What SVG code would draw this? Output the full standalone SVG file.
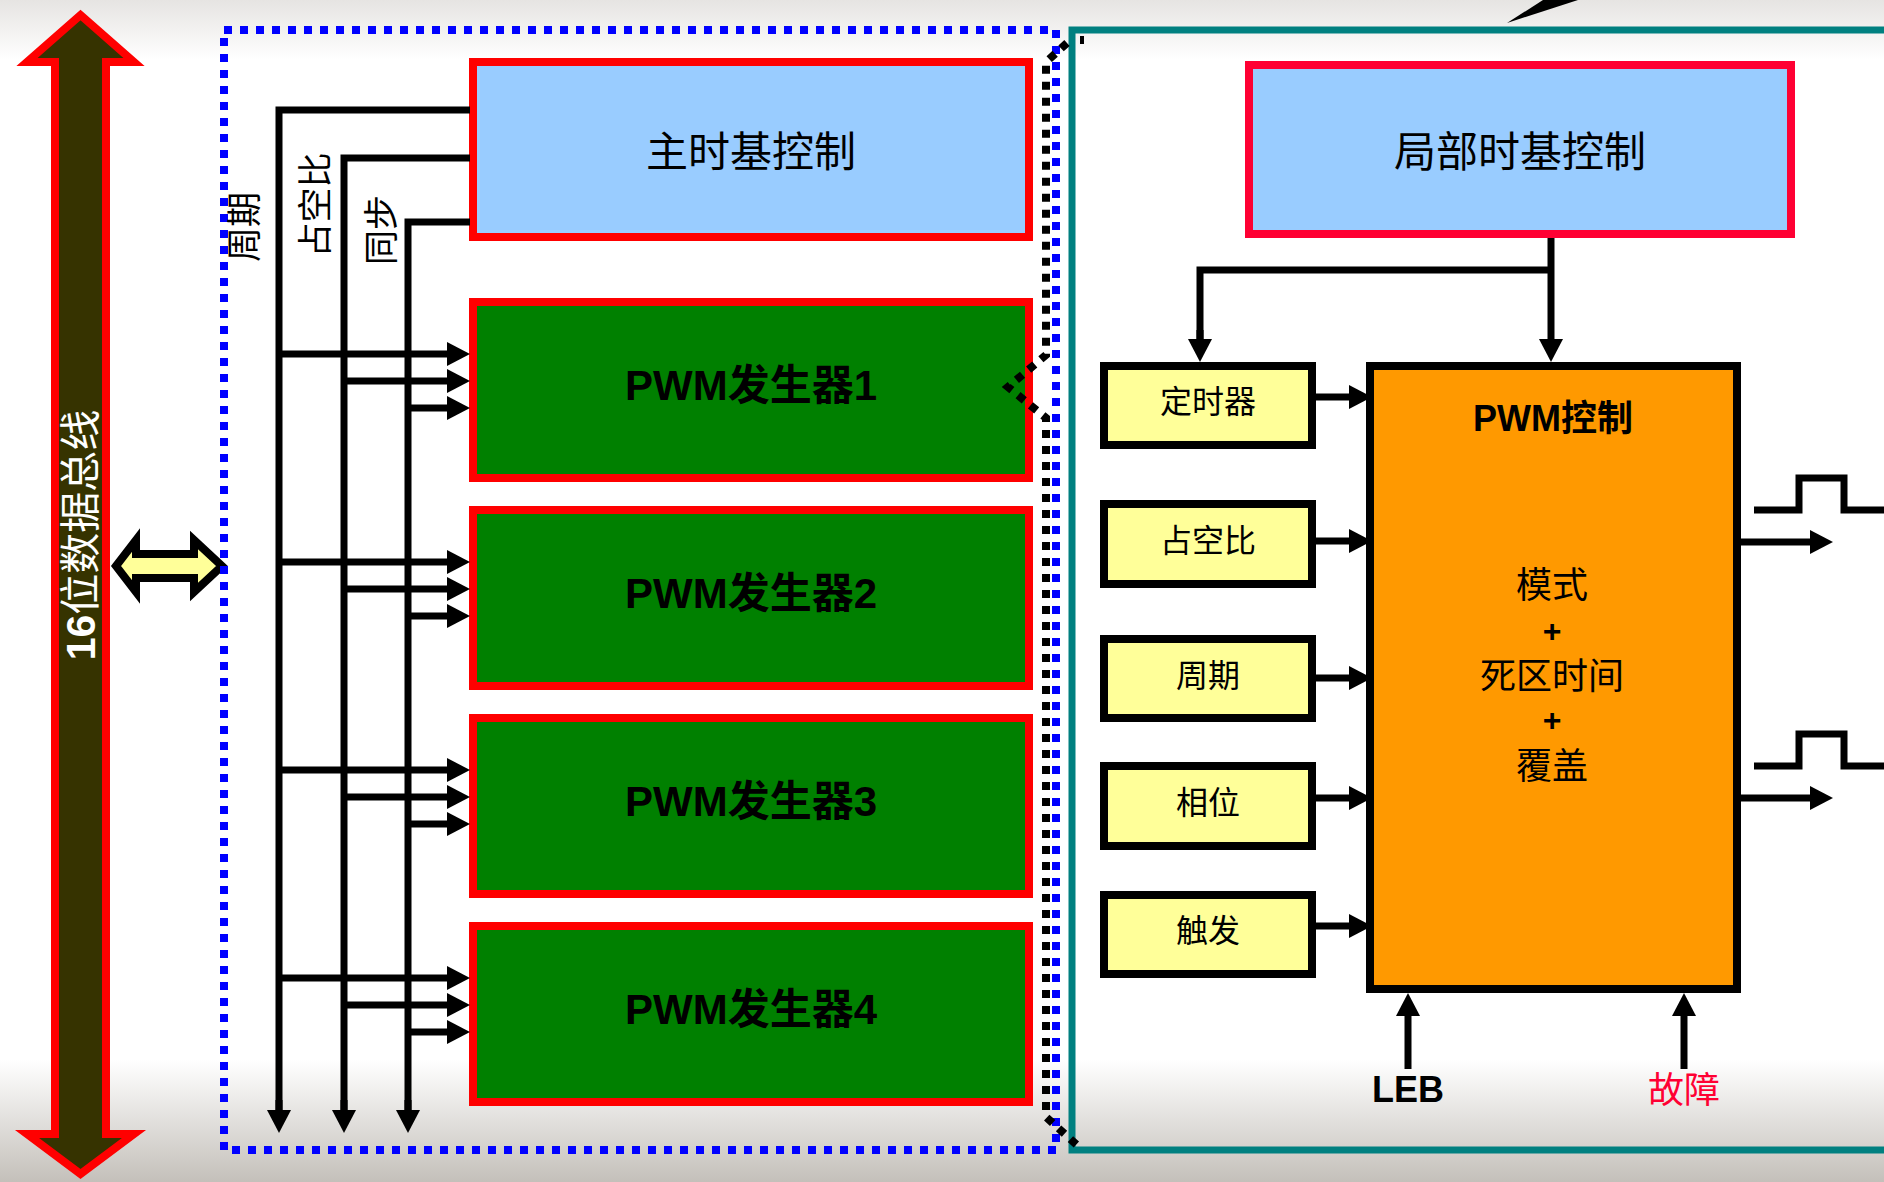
<svg xmlns="http://www.w3.org/2000/svg" width="1884" height="1182" viewBox="0 0 1884 1182">
<defs>
<linearGradient id="bgTop" x1="0" y1="0" x2="0" y2="1">
<stop offset="0" stop-color="#e6e4e2"/><stop offset="1" stop-color="#ffffff"/>
</linearGradient>
<linearGradient id="bgBot" x1="0" y1="0" x2="0" y2="1">
<stop offset="0" stop-color="#ffffff"/><stop offset="1" stop-color="#c4c0ba"/>
</linearGradient>
<marker id="ah" markerUnits="userSpaceOnUse" markerWidth="24" markerHeight="24" refX="13" refY="12" orient="auto">
<path d="M0,0 L23,12 L0,24 z" fill="#000"/>
</marker>
<style>
.cjk{font-family:"Noto Sans CJK SC","Liberation Sans",sans-serif}
.lat{font-family:"Liberation Sans","Noto Sans CJK SC",sans-serif}
.blue{fill:#99CCFF;stroke:#FF0000;stroke-width:8}
.gen{fill:#008000;stroke:#FF0000;stroke-width:8}
.yel{fill:#FFFF99;stroke:#000;stroke-width:8}
.ln{fill:none;stroke:#000;stroke-width:7;stroke-linejoin:miter}
.arr{fill:none;stroke:#000;stroke-width:7;marker-end:url(#ah)}
.gtxt{font-family:"Liberation Sans","Noto Sans CJK SC",sans-serif;font-weight:bold;font-size:42px;text-anchor:middle;fill:#000}
.ytxt{font-family:"Noto Sans CJK SC",sans-serif;font-size:32px;text-anchor:middle;fill:#000}
.otxt{font-family:"Noto Sans CJK SC",sans-serif;font-size:36px;text-anchor:middle;fill:#000}
.plus{font-family:"Liberation Sans",sans-serif;font-size:32px;font-weight:bold;text-anchor:middle;fill:#000}
.vtxt{font-family:"Noto Sans CJK SC",sans-serif;font-size:35px;text-anchor:middle;fill:#000}
</style>
</defs>
<rect x="0" y="0" width="1884" height="1182" fill="#ffffff"/>
<rect x="0" y="0" width="1884" height="60" fill="url(#bgTop)"/>
<rect x="0" y="1060" width="1884" height="122" fill="url(#bgBot)"/>

<g id="bus">
<polygon points="80.5,15 134,62 106,62 106,1134 134,1134 80.5,1174 27,1134 55,1134 55,62 27,62" fill="#363300" stroke="#FF0000" stroke-width="8" stroke-linejoin="miter"/>
<text transform="translate(80,535) rotate(-90)" x="0" y="15" text-anchor="middle" font-size="41" fill="#ffffff"><tspan class="lat" font-weight="bold">16</tspan><tspan class="cjk">位数据总线</tspan></text>
</g>

<g id="bus-link">
<polygon points="116,566 136,540 136,554 194,554 194,540 222,566 194,592 194,578 136,578 136,592" fill="#FFFF99" stroke="#000" stroke-width="8" stroke-linejoin="miter"/>
</g>

<g id="module-frame">
<rect x="224" y="30" width="832" height="1120" fill="none" stroke="#0000FF" stroke-width="8" stroke-dasharray="8 8"/>
</g>

<g id="master-timebase">
<rect class="blue" x="473" y="62" width="556" height="175"/>
<text class="cjk" x="751" y="167" font-size="42" text-anchor="middle" fill="#000">主时基控制</text>
</g>

<g id="pwm1">
<rect class="gen" x="473" y="302" width="556" height="176"/>
<text class="gtxt" x="751" y="400">PWM发生器1</text>
</g>
<g id="pwm2">
<rect class="gen" x="473" y="510" width="556" height="176"/>
<text class="gtxt" x="751" y="608">PWM发生器2</text>
</g>
<g id="pwm3">
<rect class="gen" x="473" y="718" width="556" height="176"/>
<text class="gtxt" x="751" y="816">PWM发生器3</text>
</g>
<g id="pwm4">
<rect class="gen" x="473" y="926" width="556" height="176"/>
<text class="gtxt" x="751" y="1024">PWM发生器4</text>
</g>

<g id="detail-frame">
<rect x="1072" y="30" width="900" height="1120" fill="none" stroke="#008080" stroke-width="7"/>
<path d="M1067,43 L1046,62 V355 L1008,387 L1046,418 V1117 L1078,1146" fill="none" stroke="#000" stroke-width="8" stroke-dasharray="8 8"/>
<rect x="1080" y="36" width="4" height="8" fill="#000"/>
<polygon points="1507,23 1543,0 1578,0" fill="#000"/>
</g>

<g id="labels-left">
<text class="vtxt" transform="translate(244,227) rotate(-90)" x="0" y="13">周期</text>
<text class="vtxt" transform="translate(315,205) rotate(-90)" x="0" y="13">占空比</text>
<text class="vtxt" transform="translate(381,230) rotate(-90)" x="0" y="13">同步</text>
</g>

<g id="local-timebase">
<rect x="1249" y="65" width="542" height="169" fill="#99CCFF" stroke="#FF0033" stroke-width="8"/>
<text class="cjk" x="1520" y="167" font-size="42" text-anchor="middle" fill="#000">局部时基控制</text>
</g>

<g id="timer">
<rect class="yel" x="1104" y="366" width="208" height="79"/>
<text class="ytxt" x="1208" y="413">定时器</text>
</g>
<g id="duty">
<rect class="yel" x="1104" y="504" width="208" height="80"/>
<text class="ytxt" x="1208" y="552">占空比</text>
</g>
<g id="period">
<rect class="yel" x="1104" y="639" width="208" height="79"/>
<text class="ytxt" x="1208" y="687">周期</text>
</g>
<g id="phase">
<rect class="yel" x="1104" y="766" width="208" height="80"/>
<text class="ytxt" x="1208" y="814">相位</text>
</g>
<g id="trigger">
<rect class="yel" x="1104" y="895" width="208" height="79"/>
<text class="ytxt" x="1208" y="942">触发</text>
</g>

<g id="pwm-control">
<rect x="1370" y="366" width="367" height="623" fill="#FF9900" stroke="#000" stroke-width="8"/>
<text x="1553" y="431" font-size="36" text-anchor="middle" font-weight="bold" class="lat" fill="#000">PWM控制</text>
<text class="otxt" x="1552" y="598">模式</text>
<text class="plus" x="1552" y="642">+</text>
<text class="otxt" x="1552" y="689">死区时间</text>
<text class="plus" x="1552" y="731">+</text>
<text class="otxt" x="1552" y="779">覆盖</text>
</g>

<g id="input-labels">
<text class="lat" x="1408" y="1102" font-size="36" font-weight="bold" text-anchor="middle" fill="#000">LEB</text>
<text class="cjk" x="1684" y="1103" font-size="36" text-anchor="middle" fill="#FF0033">故障</text>
</g>

<g id="connectors">
<path class="ln" d="M470,110 H279 V1110"/>
<path class="ln" d="M470,158 H344 V1110"/>
<path class="ln" d="M470,222 H408 V1110"/>
<path class="arr" d="M279,1100 V1123"/>
<path class="arr" d="M344,1100 V1123"/>
<path class="arr" d="M408,1100 V1123"/>

<path class="arr" d="M279,354 H460"/>
<path class="arr" d="M344,381 H460"/>
<path class="arr" d="M408,408 H460"/>
<path class="arr" d="M279,562 H460"/>
<path class="arr" d="M344,589 H460"/>
<path class="arr" d="M408,616 H460"/>
<path class="arr" d="M279,770 H460"/>
<path class="arr" d="M344,797 H460"/>
<path class="arr" d="M408,824 H460"/>
<path class="arr" d="M279,978 H460"/>
<path class="arr" d="M344,1005 H460"/>
<path class="arr" d="M408,1032 H460"/>

<path class="arr" d="M1551,238 V352"/>
<path class="ln" d="M1551,270 H1200 V340"/>
<path class="arr" d="M1200,330 V352"/>

<path class="arr" d="M1316,397 H1362"/>
<path class="arr" d="M1316,541 H1362"/>
<path class="arr" d="M1316,678 H1362"/>
<path class="arr" d="M1316,798 H1362"/>
<path class="arr" d="M1316,926 H1362"/>

<path class="arr" d="M1741,542 H1823"/>
<path class="arr" d="M1741,798 H1823"/>
<polyline class="ln" points="1754,510 1799,510 1799,478 1844,478 1844,510 1890,510"/>
<polyline class="ln" points="1754,766 1799,766 1799,734 1844,734 1844,766 1890,766"/>

<path class="arr" d="M1408,1069 V1003"/>
<path class="arr" d="M1684,1069 V1003"/>
</g>
</svg>
